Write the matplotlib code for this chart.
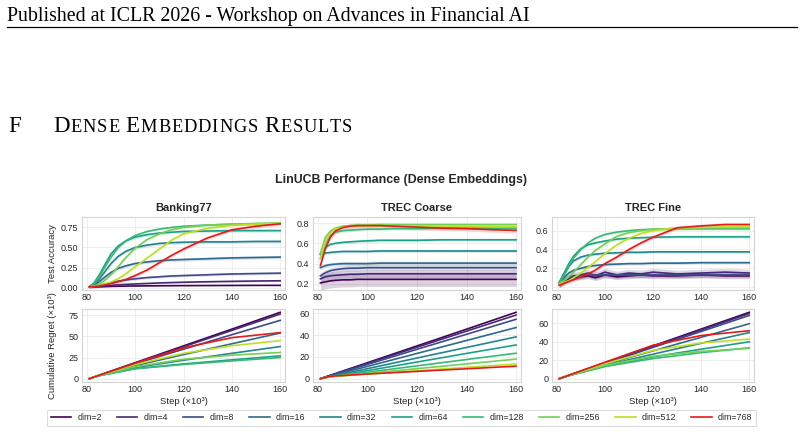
import matplotlib
matplotlib.use("Agg")
import matplotlib.pyplot as plt
import numpy as np

W, H = 804, 434

datasets = ["Banking77", "TREC Coarse", "TREC Fine"]
dims = [2, 4, 8, 16, 32, 64, 128, 256, 512, 768]

acc_steps = [81, 83, 85, 87, 90, 93, 96, 100, 105, 110, 115, 120, 130, 140, 150, 160]
regret_steps = [81, 85, 100, 120, 140, 160]

banking_acc = [
    [0.01, 0.01, 0.01, 0.012, 0.015, 0.017, 0.019, 0.02, 0.022, 0.023, 0.024, 0.025, 0.026, 0.027, 0.028, 0.028],
    [0.01, 0.012, 0.015, 0.02, 0.028, 0.035, 0.04, 0.045, 0.052, 0.058, 0.063, 0.067, 0.073, 0.078, 0.082, 0.085],
    [0.01, 0.015, 0.025, 0.04, 0.06, 0.08, 0.095, 0.11, 0.125, 0.135, 0.145, 0.15, 0.16, 0.17, 0.175, 0.18],
    [0.01, 0.03, 0.07, 0.12, 0.19, 0.24, 0.27, 0.30, 0.32, 0.335, 0.345, 0.35, 0.36, 0.37, 0.375, 0.38],
    [0.01, 0.04, 0.10, 0.18, 0.30, 0.39, 0.45, 0.50, 0.53, 0.55, 0.56, 0.565, 0.57, 0.57, 0.575, 0.575],
    [0.01, 0.06, 0.15, 0.26, 0.42, 0.52, 0.58, 0.63, 0.66, 0.68, 0.69, 0.70, 0.705, 0.71, 0.71, 0.71],
    [0.01, 0.05, 0.13, 0.23, 0.38, 0.50, 0.58, 0.65, 0.70, 0.73, 0.75, 0.765, 0.78, 0.79, 0.795, 0.80],
    [0.01, 0.02, 0.04, 0.08, 0.16, 0.26, 0.37, 0.49, 0.60, 0.67, 0.72, 0.75, 0.78, 0.79, 0.80, 0.805],
    [0.01, 0.015, 0.025, 0.04, 0.07, 0.11, 0.17, 0.26, 0.37, 0.48, 0.59, 0.67, 0.74, 0.775, 0.79, 0.80],
    [0.01, 0.012, 0.02, 0.03, 0.05, 0.075, 0.10, 0.15, 0.22, 0.31, 0.40, 0.48, 0.62, 0.72, 0.765, 0.795],
]
coarse_acc = [
    [0.21, 0.22, 0.23, 0.235, 0.24, 0.24, 0.245, 0.245, 0.245, 0.245, 0.245, 0.245, 0.245, 0.245, 0.245, 0.245],
    [0.25, 0.27, 0.28, 0.285, 0.29, 0.295, 0.295, 0.30, 0.30, 0.30, 0.30, 0.30, 0.30, 0.30, 0.30, 0.30],
    [0.28, 0.31, 0.33, 0.34, 0.35, 0.355, 0.355, 0.36, 0.36, 0.36, 0.36, 0.36, 0.36, 0.36, 0.36, 0.36],
    [0.36, 0.38, 0.39, 0.395, 0.40, 0.40, 0.40, 0.40, 0.405, 0.405, 0.405, 0.405, 0.405, 0.405, 0.405, 0.405],
    [0.49, 0.505, 0.51, 0.515, 0.52, 0.52, 0.52, 0.52, 0.525, 0.525, 0.525, 0.525, 0.525, 0.525, 0.525, 0.525],
    [0.50, 0.56, 0.59, 0.60, 0.61, 0.615, 0.62, 0.625, 0.63, 0.63, 0.63, 0.63, 0.635, 0.635, 0.635, 0.635],
    [0.45, 0.60, 0.68, 0.71, 0.725, 0.73, 0.735, 0.74, 0.74, 0.745, 0.745, 0.745, 0.75, 0.75, 0.75, 0.75],
    [0.50, 0.66, 0.72, 0.75, 0.77, 0.775, 0.78, 0.78, 0.785, 0.785, 0.785, 0.785, 0.785, 0.785, 0.785, 0.785],
    [0.45, 0.62, 0.70, 0.74, 0.76, 0.77, 0.77, 0.775, 0.775, 0.775, 0.77, 0.77, 0.77, 0.77, 0.765, 0.765],
    [0.38, 0.55, 0.66, 0.72, 0.755, 0.77, 0.775, 0.775, 0.775, 0.77, 0.765, 0.76, 0.75, 0.745, 0.735, 0.728],
]
fine_acc = [
    [0.03, 0.06, 0.09, 0.10, 0.11, 0.12, 0.10, 0.13, 0.11, 0.12, 0.13, 0.12, 0.12, 0.13, 0.12, 0.12],
    [0.03, 0.07, 0.10, 0.12, 0.13, 0.15, 0.12, 0.16, 0.13, 0.15, 0.14, 0.16, 0.14, 0.15, 0.16, 0.15],
    [0.03, 0.07, 0.10, 0.11, 0.12, 0.13, 0.13, 0.13, 0.13, 0.13, 0.13, 0.13, 0.13, 0.13, 0.13, 0.13],
    [0.04, 0.10, 0.15, 0.18, 0.20, 0.22, 0.23, 0.24, 0.245, 0.25, 0.25, 0.255, 0.255, 0.26, 0.26, 0.26],
    [0.05, 0.14, 0.22, 0.28, 0.32, 0.34, 0.35, 0.36, 0.365, 0.37, 0.37, 0.375, 0.375, 0.375, 0.375, 0.375],
    [0.05, 0.15, 0.25, 0.33, 0.41, 0.45, 0.47, 0.49, 0.51, 0.52, 0.525, 0.53, 0.535, 0.535, 0.535, 0.535],
    [0.05, 0.12, 0.22, 0.31, 0.40, 0.47, 0.52, 0.56, 0.585, 0.60, 0.61, 0.615, 0.62, 0.62, 0.62, 0.62],
    [0.04, 0.07, 0.11, 0.16, 0.24, 0.32, 0.39, 0.46, 0.54, 0.58, 0.60, 0.615, 0.625, 0.63, 0.63, 0.63],
    [0.03, 0.05, 0.07, 0.10, 0.15, 0.21, 0.27, 0.355, 0.45, 0.52, 0.57, 0.60, 0.63, 0.635, 0.64, 0.64],
    [0.02, 0.04, 0.06, 0.08, 0.11, 0.14, 0.18, 0.25, 0.32, 0.40, 0.47, 0.53, 0.63, 0.65, 0.665, 0.665],
]

banking_band = [0.005, 0.01, 0.015, 0.02, 0.02, 0.02, 0.015, 0.015, 0.015, 0.02]
coarse_band = [0.07, 0.04, 0.03, 0.02, 0.015, 0.015, 0.015, 0.015, 0.015, 0.025]
fine_band = [0.03, 0.04, 0.03, 0.015, 0.015, 0.015, 0.015, 0.015, 0.015, 0.02]

banking_regret = [
    [0, 4.0, 18.9, 38.8, 58.6, 78.5],
    [0, 3.9, 18.4, 37.8, 57.1, 76.5],
    [0, 3.9, 17.6, 34.9, 52.0, 69.0],
    [0, 3.8, 15.5, 28.5, 41.3, 54.0],
    [0, 3.6, 13.2, 21.8, 30.0, 38.0],
    [0, 3.5, 11.8, 17.5, 22.3, 27.0],
    [0, 3.5, 11.8, 16.8, 21.0, 25.0],
    [0, 3.8, 14.2, 23.0, 27.8, 31.0],
    [0, 3.9, 16.8, 30.0, 39.0, 45.0],
    [0, 3.9, 18.3, 36.5, 48.5, 54.5],
]
coarse_regret = [
    [0, 3.1, 14.7, 30.1, 45.5, 61.0],
    [0, 3.0, 14.1, 28.9, 43.7, 58.5],
    [0, 2.8, 13.1, 27.0, 40.8, 54.6],
    [0, 2.4, 11.3, 23.2, 35.1, 47.0],
    [0, 2.0, 9.2, 19.0, 28.7, 38.4],
    [0, 1.9, 7.4, 15.3, 23.2, 31.0],
    [0, 1.8, 5.9, 11.8, 17.6, 23.4],
    [0, 1.7, 4.8, 9.2, 13.6, 18.0],
    [0, 1.8, 4.2, 7.3, 10.4, 13.5],
    [0, 2.2, 4.3, 6.7, 9.1, 11.5],
]
fine_regret = [
    [0, 3.7, 17.3, 35.5, 53.8, 72.0],
    [0, 3.6, 17.0, 34.9, 52.8, 70.7],
    [0, 3.6, 16.6, 33.9, 51.2, 68.6],
    [0, 3.5, 15.5, 30.2, 44.9, 59.6],
    [0, 3.4, 14.5, 26.6, 38.4, 50.0],
    [0, 3.3, 13.4, 23.6, 32.0, 40.0],
    [0, 3.3, 13.2, 21.8, 28.2, 33.5],
    [0, 3.5, 14.5, 24.3, 29.6, 33.0],
    [0, 3.6, 16.3, 30.6, 38.8, 43.0],
    [0, 3.7, 17.8, 36.3, 46.8, 52.0],
]

acc_ylims = [(-0.03, 0.88), (0.14, 0.86), (-0.03, 0.745)]
acc_yticks = [[0, 0.25, 0.5, 0.75], [0.2, 0.4, 0.6, 0.8], [0, 0.2, 0.4, 0.6]]
regret_yticks = [[0, 25, 50, 75], [0, 20, 40, 60], [0, 20, 40, 60]]

colors = [plt.cm.viridis(v) for v in np.linspace(0, 0.9, 9)] + ["#e41a1c"]

SANS = "Liberation Sans"
SERIF = "Liberation Serif"
TXT = "#262626"


def px_axes(fig, l, t, r, b):
    return fig.add_axes([l / W, 1 - b / H, (r - l) / W, (b - t) / H])


def style_axes(ax):
    ax.set_facecolor("white")
    for s in ax.spines.values():
        s.set_color("#d4d4d4")
        s.set_linewidth(0.8)
    ax.grid(True, color="#ebebeb", linewidth=0.6)
    ax.set_axisbelow(True)
    ax.tick_params(length=0, pad=2.5, labelsize=6.5, labelcolor=TXT)
    for lab in ax.get_xticklabels() + ax.get_yticklabels():
        lab.set_fontfamily(SANS)
    ax.set_xlim(78, 162)
    ax.set_xticks([80, 100, 120, 140, 160])


def small_caps(fig, renderer, x_px, base, words, big, small, track, gap):
    # draws each word letter by letter: first letter large, rest smaller
    x = x_px / W
    for w in words:
        for k, ch in enumerate(w):
            t = fig.text(x, base, ch, family=SERIF, fontsize=big if k == 0 else small, va="baseline")
            x = t.get_window_extent(renderer).x1 / W + track / W
        x += gap / W


def main():
    fig = plt.figure(figsize=(W / 100, H / 100), dpi=100)
    renderer = fig.canvas.get_renderer()

    # page header
    fig.text(7 / W, 1 - 20.5 / H, "Published at ICLR 2026 - Workshop on Advances in Financial AI",
             family=SERIF, fontsize=14.3, va="baseline", ha="left", color="black")
    fig.add_artist(plt.Line2D([7 / W, 797 / W], [1 - 27 / H, 1 - 27 / H], color="black", lw=0.9))

    # section heading
    base = 1 - 132.5 / H
    fig.text(8 / W, base, "F", family=SERIF, fontsize=16.5, va="baseline")
    small_caps(fig, renderer, 53, base, ["DENSE", "EMBEDDINGS", "RESULTS"], 16.5, 13.2, 0.9, 5.5)

    fig.text(401.5 / W, 1 - 180 / H, "LinUCB Performance (Dense Embeddings)", ha="center", va="center",
             family=SANS, fontsize=8.9, fontweight="bold", color=TXT)

    cols = [(82, 285), (313, 521), (552, 754)]
    accs = [banking_acc, coarse_acc, fine_acc]
    bands = [banking_band, coarse_band, fine_band]
    regrets = [banking_regret, coarse_regret, fine_regret]

    for i, (l, r) in enumerate(cols):
        ax = px_axes(fig, l, 217, r, 290)
        for j in range(len(dims)):
            y = np.array(accs[i][j])
            ax.fill_between(acc_steps, y - bands[i][j], y + bands[i][j], color=colors[j], alpha=0.18, lw=0)
            ax.plot(acc_steps, y, color=colors[j], lw=1.2)
        ax.set_ylim(*acc_ylims[i])
        ax.set_yticks(acc_yticks[i])
        style_axes(ax)
        ax.set_title(datasets[i], family=SANS, fontsize=8, fontweight="bold", color=TXT, pad=4)
        if i == 0:
            ax.set_ylabel("Test Accuracy", family=SANS, fontsize=6.8, color=TXT)
            ax.yaxis.set_label_coords(-0.125, 0.5)

        ax2 = px_axes(fig, l, 309, r, 382)
        for j in range(len(dims)):
            ax2.plot(regret_steps, regrets[i][j], color=colors[j], lw=1.2, label=f"dim={dims[j]}")
        ax2.set_yticks(regret_yticks[i])
        style_axes(ax2)
        ax2.set_xlabel("Step (×10³)", family=SANS, fontsize=6.8, color=TXT, labelpad=2)
        if i == 0:
            ax2.set_ylabel("Cumulative Regret (×10³)", family=SANS, fontsize=6.8, color=TXT)
            ax2.yaxis.set_label_coords(-0.125, 0.5)
            handles, labels = ax2.get_legend_handles_labels()

    leg = fig.legend(handles, labels, loc="center", ncol=10, mode="expand",
                     bbox_to_anchor=(47 / W, 1 - 427 / H, 709 / W, 18 / H),
                     prop={"family": SANS, "size": 6.4}, frameon=True, fancybox=False,
                     handlelength=2.3, handletextpad=0.7, borderaxespad=0, columnspacing=1.0)
    leg.get_frame().set_edgecolor("#d4d4d4")
    leg.get_frame().set_linewidth(0.8)
    for t in leg.get_texts():
        t.set_color(TXT)

    fig.savefig("out.png", dpi=100)


if __name__ == "__main__":
    main()
